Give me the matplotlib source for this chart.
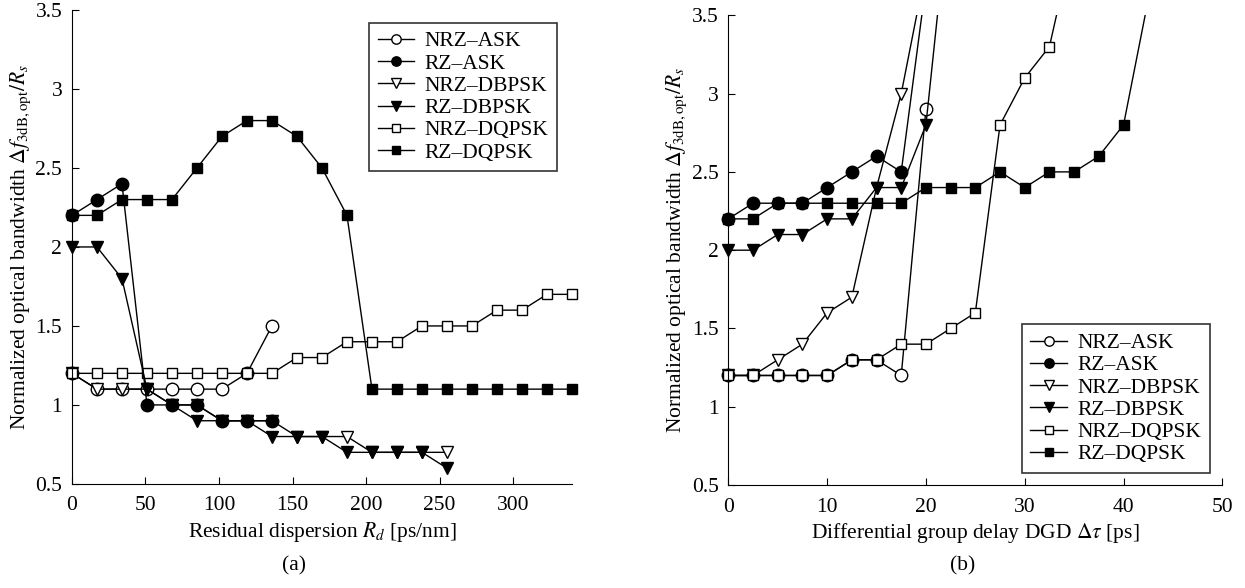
import matplotlib
matplotlib.use('Agg')
import matplotlib.pyplot as plt
from matplotlib.patches import Rectangle
from matplotlib.ticker import FuncFormatter
import numpy as np

plt.rcParams['font.family'] = ['Liberation Serif', 'DejaVu Serif']
plt.rcParams['mathtext.fontset'] = 'stix'
plt.rcParams['font.size'] = 15.5

labels = ['NRZ–ASK', 'RZ–ASK', 'NRZ–DBPSK', 'RZ–DBPSK', 'NRZ–DQPSK', 'RZ–DQPSK']

# (a) residual dispersion, step 17 ps/nm
rd = np.arange(0, 341, 17)
a_nrz_ask = [1.2, 1.1, 1.1, 1.1, 1.1, 1.1, 1.1, 1.2, 1.5]
a_rz_ask = [2.2, 2.3, 2.4, 1.0, 1.0, 1.0, 0.9, 0.9, 0.9]
a_nrz_dbpsk = [1.2, 1.1, 1.1, 1.1, 1.0, 1.0, 0.9, 0.9, 0.9, 0.8, 0.8, 0.8, 0.7, 0.7, 0.7, 0.7]
a_rz_dbpsk = [2.0, 2.0, 1.8, 1.1, 1.0, 0.9, 0.9, 0.9, 0.8, 0.8, 0.8, 0.7, 0.7, 0.7, 0.7, 0.6]
a_nrz_dqpsk = [1.2, 1.2, 1.2, 1.2, 1.2, 1.2, 1.2, 1.2, 1.2, 1.3, 1.3, 1.4, 1.4, 1.4,
               1.5, 1.5, 1.5, 1.6, 1.6, 1.7, 1.7]
a_rz_dqpsk = [2.2, 2.2, 2.3, 2.3, 2.3, 2.5, 2.7, 2.8, 2.8, 2.7, 2.5, 2.2, 1.1, 1.1,
              1.1, 1.1, 1.1, 1.1, 1.1, 1.1, 1.1]

# (b) differential group delay, step 2.5 ps
dgd = np.arange(0, 45, 2.5)
b_nrz_ask = [1.2, 1.2, 1.2, 1.2, 1.2, 1.3, 1.3, 1.2, 2.9]
b_rz_ask = [2.2, 2.3, 2.3, 2.3, 2.4, 2.5, 2.6, 2.5, 3.7]
b_nrz_dbpsk = [1.2, 1.2, 1.3, 1.4, 1.6, 1.7, 2.4, 3.0, 3.8]
b_rz_dbpsk = [2.0, 2.0, 2.1, 2.1, 2.2, 2.2, 2.4, 2.4, 2.8, 4.3]
b_nrz_dqpsk = [1.2, 1.2, 1.2, 1.2, 1.2, 1.3, 1.3, 1.4, 1.4, 1.5, 1.6, 2.8, 3.1, 3.3, 4.0]
b_rz_dqpsk = [2.2, 2.2, 2.3, 2.3, 2.3, 2.3, 2.3, 2.3, 2.4, 2.4, 2.4, 2.5, 2.4, 2.5,
              2.5, 2.6, 2.8, 3.6]

# open markers below, filled markers drawn on top
styles = [
    dict(marker='o', mfc='white', ms=9, zorder=2),
    dict(marker='o', mfc='black', ms=9, zorder=3),
    dict(marker='v', mfc='white', ms=9, zorder=2),
    dict(marker='v', mfc='black', ms=9, zorder=3),
    dict(marker='s', mfc='white', ms=7.5, zorder=2),
    dict(marker='s', mfc='black', ms=7.5, zorder=3),
]

ylabel = r'Normalized optical bandwidth $\Delta f_{3\mathrm{dB,opt}}/R_s$'


def draw_panel(ax, x, series, xlim, xticks, xlabel):
    for ys, st, lab in zip(series, styles, labels):
        line, = ax.plot(x[:len(ys)], ys, color='black', lw=1, mec='black',
                        mew=1, label=lab, **st)
        clip = Rectangle((-0.05, -0.05), 1.1, 1.05, transform=ax.transAxes)
        line.set_clip_path(clip)
    ax.set_xlim(*xlim)
    ax.set_ylim(0.5, 3.5)
    ax.set_xticks(xticks)
    ax.set_yticks(np.arange(0.5, 3.51, 0.5))
    ax.yaxis.set_major_formatter(FuncFormatter(lambda v, p: '%g' % v))
    for s in ['top', 'right']:
        ax.spines[s].set_visible(False)
    ax.tick_params(direction='in', length=5, labelsize=15.5)
    ax.tick_params(axis='x', pad=9)
    ax.tick_params(axis='y', pad=7)
    ax.set_xlabel(xlabel, fontsize=15.5, labelpad=3)
    ax.set_ylabel(ylabel, fontsize=15.5, labelpad=2)


fig = plt.figure(figsize=(12.45, 5.88), dpi=100)
ax1 = fig.add_axes([0.0578, 0.177, 0.4016, 0.806])
ax2 = fig.add_axes([0.585, 0.175, 0.3968, 0.799])

draw_panel(ax1, rd, [a_nrz_ask, a_rz_ask, a_nrz_dbpsk, a_rz_dbpsk, a_nrz_dqpsk, a_rz_dqpsk],
           (0, 340), [0, 50, 100, 150, 200, 250, 300], r'Residual dispersion $R_d$ [ps/nm]')
draw_panel(ax2, dgd, [b_nrz_ask, b_rz_ask, b_nrz_dbpsk, b_rz_dbpsk, b_nrz_dqpsk, b_rz_dqpsk],
           (0, 50), [0, 10, 20, 30, 40, 50], r'Differential group delay DGD $\Delta\tau$ [ps]')

leg_kw = dict(fontsize=15.5, frameon=True, fancybox=False, edgecolor='black',
              borderaxespad=0, handlelength=1.7, labelspacing=0.1,
              markerscale=0.75, handletextpad=0.5, borderpad=0.4)
l1 = ax1.legend(loc='upper left', bbox_to_anchor=(0.594, 0.973), **leg_kw)
l2 = ax2.legend(loc='lower left', bbox_to_anchor=(0.594, 0.026), **leg_kw)
for lg in (l1, l2):
    lg.get_frame().set_linewidth(1.2)

fig.text(0.2365, 0.03, '(a)', ha='center', fontsize=15.5)
fig.text(0.7735, 0.03, '(b)', ha='center', fontsize=15.5)

fig.savefig('out.png', dpi=100)
